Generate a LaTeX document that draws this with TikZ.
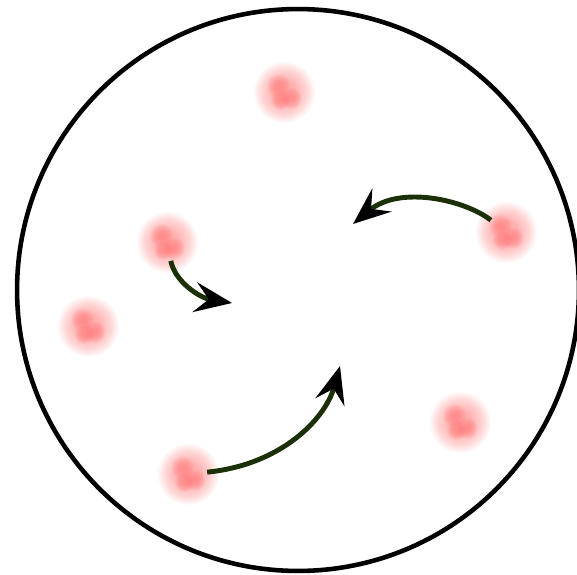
\documentclass[tikz,border=0pt]{standalone}
\usetikzlibrary{arrows.meta,fadings}
\definecolor{stemgreen}{RGB}{28,48,8}
\pgfdeclareradialshading{fuzzshade}{\pgfpointorigin}{color(0bp)=(pgftransparent!0); color(9bp)=(pgftransparent!15); color(18bp)=(pgftransparent!55); color(25bp)=(pgftransparent!100); color(50bp)=(pgftransparent!100)}
\pgfdeclarefading{fuzz}{\pgfuseshading{fuzzshade}}
\tikzset{blob/.style={circle,minimum size=1.25cm,inner sep=0pt,outer sep=-0.24cm,fill=red!36,path fading=fuzz},
  spot/.style={fill=red!65,path fading=fuzz,fill opacity=0.4},
  drift/.style={-{Stealth[length=7.5mm,width=6mm,inset=2.8mm,color=black]},line width=2.8pt,stemgreen}}
\begin{document}
\begin{tikzpicture}[x=0.02cm,y=-0.02cm]
\useasboundingbox (0,0) rectangle (577,574);
\draw[line width=2.6pt] (298,290) circle (5.62cm);
\foreach \n/\x/\y in {A/284/92,B/167/242,C/88/326,D/506/232,E/460/422,F/188/474}{
  \node[blob] (blob\n) at (\x,\y) {};
  \fill[spot] (\x-6,\y-7) circle (0.24cm);
  \fill[spot] (\x+7,\y+6) circle (0.22cm);
  \fill[spot] (\x-4,\y+8) circle (0.2cm);}
\coordinate (endB) at (232,303);
\coordinate (endD) at (353,224);
\coordinate (endF) at (340,366);
\draw[drift] (blobB) .. controls (175,282) and (200,298) .. (endB);
\draw[drift] (blobD) .. controls (465,200) and (400,185) .. (endD);
\draw[drift] (blobF) .. controls (280,465) and (325,420) .. (endF);
\end{tikzpicture}
\end{document}
